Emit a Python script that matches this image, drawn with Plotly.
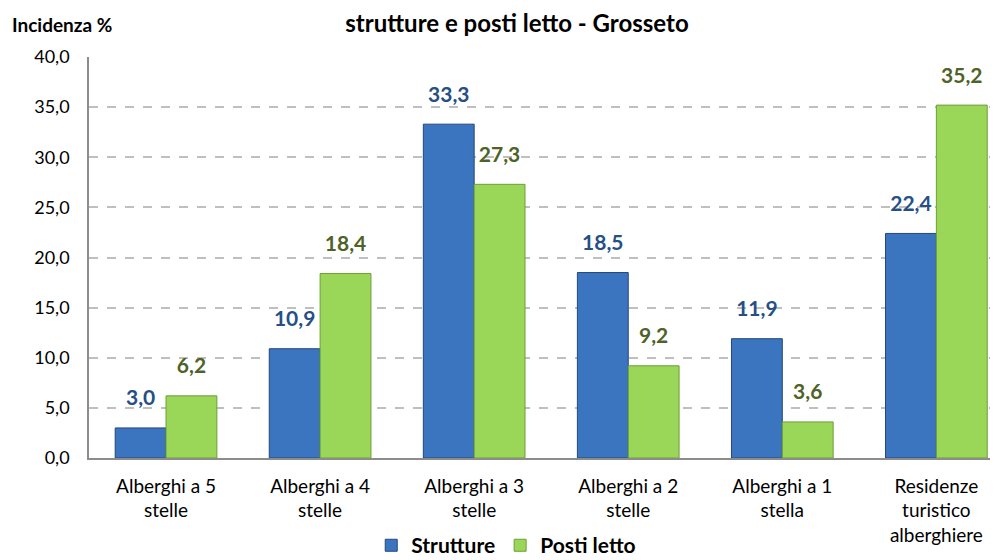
import plotly.graph_objects as go

categories = ["Alberghi a 5<br>stelle", "Alberghi a 4<br>stelle", "Alberghi a 3<br>stelle",
              "Alberghi a 2<br>stelle", "Alberghi a 1<br>stella", "Residenze<br>turistico<br>alberghiere"]
strutture = [3.0, 10.9, 33.3, 18.5, 11.9, 22.4]
posti_letto = [6.2, 18.4, 27.3, 9.2, 3.6, 35.2]
y_ticks = [0, 5, 10, 15, 20, 25, 30, 35, 40]

def fmt(v):
    return f"{v:.1f}".replace(".", ",")

FONT = "Lato, Open Sans, sans-serif"
BLUE_TXT = "#264F86"
GREEN_TXT = "#4F6228"

fig = go.Figure()
fig.add_trace(go.Bar(
    name="Strutture", x=categories, y=strutture, offsetgroup="s",
    marker=dict(color="#3B74BF", line=dict(color="#24487A", width=1)),
))
fig.add_trace(go.Bar(
    name="Posti letto", x=categories, y=posti_letto, offsetgroup="p",
    marker=dict(color="#9AD657", line=dict(color="#6F9E38", width=1)),
))
# data labels, grouped like the bars (invisible markers set the gap above each bar)
fig.add_trace(go.Scatter(
    x=categories, y=strutture, offsetgroup="s", mode="markers+text",
    marker=dict(size=26, color="rgba(0,0,0,0)"),
    text=[fmt(v) for v in strutture], textposition="top center",
    textfont=dict(family=FONT, size=21, color=BLUE_TXT, weight="bold"),
    showlegend=False, hoverinfo="skip", cliponaxis=False,
))
fig.add_trace(go.Scatter(
    x=categories, y=posti_letto, offsetgroup="p", mode="markers+text",
    marker=dict(size=26, color="rgba(0,0,0,0)"),
    text=[fmt(v) for v in posti_letto], textposition="top center",
    textfont=dict(family=FONT, size=21, color=GREEN_TXT, weight="bold"),
    showlegend=False, hoverinfo="skip", cliponaxis=False,
))

fig.update_layout(
    width=998, height=560,
    margin=dict(l=81, r=8, t=49, b=110),
    paper_bgcolor="white", plot_bgcolor="white",
    separators=",.",
    barmode="group", bargap=0.34, bargroupgap=0,
    scattermode="group", scattergap=0.34,
    font=dict(family=FONT, size=19, color="#000000"),
    title=dict(text="<b>strutture e posti letto - Grosseto</b>", x=0.51, xanchor="center",
               y=0.972, yanchor="middle", font=dict(family=FONT, size=24, color="#000000")),
    showlegend=True,
    legend=dict(orientation="h", x=0.459, xanchor="center", yref="container", y=0.04,
                yanchor="middle",
                font=dict(family=FONT, size=21, color="#000000", weight="bold"),
                itemwidth=30, traceorder="normal", tracegroupgap=0),
    xaxis=dict(range=[-0.5, 5.4], showline=True, linecolor="#8C8C8C", linewidth=1.5,
               ticks="", tickfont=dict(family=FONT, size=19, color="#000000"), showgrid=False,
               automargin=False, ticklabelstandoff=10),
    yaxis=dict(range=[0, 40], tickvals=y_ticks, tickformat=".1f", showline=True,
               linecolor="#8C8C8C", linewidth=1.5, showgrid=True, gridcolor="#BFBFBF",
               griddash="dash", gridwidth=1.5, zeroline=False, automargin=False,
               tickfont=dict(family=FONT, size=18, color="#000000"), ticks="", ticklen=0,
               ticklabelstandoff=14),
    annotations=[dict(text="<b>Incidenza %</b>", xref="paper", yref="paper", x=-0.087, y=1.08,
                      xanchor="left", yanchor="middle", showarrow=False,
                      font=dict(family=FONT, size=19, color="#000000"))],
)

fig.write_html("out.html")
